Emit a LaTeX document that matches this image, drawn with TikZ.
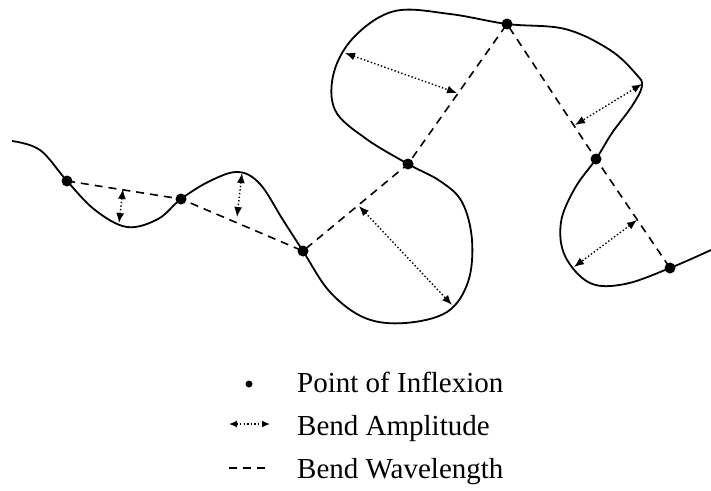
\documentclass[tikz,border=0pt]{standalone}
\usepackage{fontspec}
\setmainfont{Liberation Serif}
\usetikzlibrary{arrows.meta}

\tikzset{
  river/.style={line width=1.8pt, line join=round},
  wavelen/.style={line width=1.6pt, dash pattern=on 8pt off 6pt},
  ampl/.style={line width=1.4pt, dash pattern=on 1.4pt off 2.2pt,
    {Latex[length=10pt,width=8pt]}-{Latex[length=10pt,width=8pt]}},
  inflex/.style={circle, fill, inner sep=0pt, minimum size=11pt},
  legtext/.style={anchor=base west, inner sep=0pt, font=\fontsize{29}{34}\selectfont}
}

\begin{document}
\begin{tikzpicture}[x=1pt, y=-1pt]
    \useasboundingbox (0,0) rectangle (711,490);

    % Meandering channel
    \draw[river] plot[smooth, tension=0.6] coordinates {
        (12,141) (40,150) (67,181) (95,210) (127,227) (158,219) (181,199)
        (210,181) (238,172) (260,184) (283,220) (303,251) (330,292)
        (365,318) (405,323) (447,312) (468,282) (472,240) (462,202)
        (440,181) (408,164) (365,138) (335,110) (334,72) (355,36)
        (395,11) (450,14) (507,24) (565,29) (610,50) (636,74) (642,86)
        (632,106) (612,133) (596,159) (575,188) (561,222) (565,256)
        (590,283) (625,284) (670,268) (711,250)};

    % Points of inflexion
    \node[inflex] (p1) at (67,181) {};
    \node[inflex] (p2) at (181,199) {};
    \node[inflex] (p3) at (303,251) {};
    \node[inflex] (p4) at (408,164) {};
    \node[inflex] (p5) at (507,24) {};
    \node[inflex] (p6) at (596,159) {};
    \node[inflex] (p7) at (670,268) {};

    % Bend wavelengths
    \draw[wavelen] (p1.center) -- (p2.center) -- (p3.center) -- (p4.center)
        -- (p5.center) -- (p6.center) -- (p7.center);

    % Bend amplitudes
    \coordinate (a1s) at (123,189);  \coordinate (a1e) at (119,223);
    \coordinate (a2s) at (242,173);  \coordinate (a2e) at (237,217);
    \coordinate (a3s) at (345,53);   \coordinate (a3e) at (457,93);
    \coordinate (a4s) at (359,206);  \coordinate (a4e) at (452,305);
    \coordinate (a5s) at (642,84);   \coordinate (a5e) at (575,125);
    \coordinate (a6s) at (637,220);  \coordinate (a6e) at (574,267);
    \draw[ampl] (a1s) -- (a1e);
    \draw[ampl] (a2s) -- (a2e);
    \draw[ampl] (a3s) -- (a3e);
    \draw[ampl] (a4s) -- (a4e);
    \draw[ampl] (a5s) -- (a5e);
    \draw[ampl] (a6s) -- (a6e);

    % Legend
    \node[inflex, minimum size=7pt] (kdot) at (249,384) {};
    \node[legtext] (kinflex) at (297,392) {Point of Inflexion};
    \coordinate (karrs) at (229,424);  \coordinate (karre) at (270,424);
    \draw[ampl, {Latex[length=8pt,width=7pt]}-{Latex[length=8pt,width=7pt]}] (karrs) -- (karre);
    \node[legtext] (kampl) at (297,435) {Bend Amplitude};
    \coordinate (kdashs) at (229,468); \coordinate (kdashe) at (267,468);
    \draw[wavelen, line width=1.3pt] (kdashs) -- (kdashe);
    \node[legtext] (kwave) at (297,478) {Bend Wavelength};
\end{tikzpicture}
\end{document}
